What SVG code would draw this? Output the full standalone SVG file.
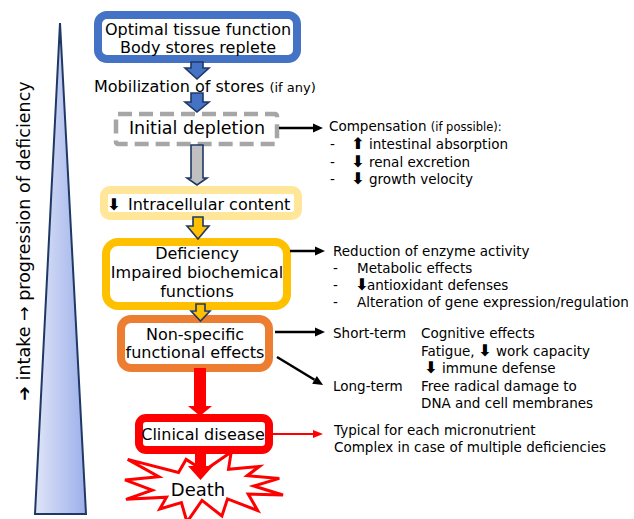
<svg xmlns="http://www.w3.org/2000/svg" width="634" height="519" viewBox="0 0 634 519">
<style>
text{font-family:"DejaVu Sans",sans-serif;fill:#000}
.m{font-size:16px;text-anchor:middle}
.r{font-size:13.5px}
.sm{font-size:11.5px}
.ar{font-size:16px;font-weight:bold}
.blk{fill:none;stroke:#000;stroke-width:2.5}
.red{fill:none;stroke:#ff0000;stroke-width:2}
.ba{stroke:#1f3864;stroke-width:1.6;stroke-linejoin:miter}
</style>
<defs>
<linearGradient id="tri" x1="35" y1="0" x2="86" y2="0" gradientUnits="userSpaceOnUse">
<stop offset="0" stop-color="#dfe4f7"/>
<stop offset="1" stop-color="#9cafea"/>
</linearGradient>
<marker id="ah" markerUnits="userSpaceOnUse" markerWidth="11" markerHeight="10" refX="0" refY="5" orient="auto" overflow="visible">
<path d="M0,0.5 L10,5 L0,9.5 z" fill="#000"/>
</marker>
<marker id="ahr" markerUnits="userSpaceOnUse" markerWidth="11" markerHeight="10" refX="0" refY="4.5" orient="auto" overflow="visible">
<path d="M0,0.5 L10,4.5 L0,8.5 z" fill="#ff0000"/>
</marker>
</defs>
<rect width="634" height="519" fill="#fff"/>

<g id="scale">
<polygon points="60,23 86,514 35,514" fill="url(#tri)" stroke="#1f3864" stroke-width="2" stroke-linejoin="miter"/>
<text transform="translate(30,241) rotate(-90)" style="font-size:17.5px;text-anchor:middle"><tspan style="font-weight:bold">➔</tspan> intake → progression of deficiency</text>
</g>

<g id="optimal">
<rect x="98" y="15" width="199" height="44" rx="9" fill="#fff" stroke="#4472c4" stroke-width="8"/>
<text class="m" x="198" y="35">Optimal tissue function</text>
<text class="m" x="198" y="53">Body stores replete</text>
</g>

<g id="mobilization">
<text x="94" y="92" style="font-size:16px">Mobilization of stores <tspan style="font-size:13px">(if any)</tspan></text>
</g>

<g id="initial">
<rect x="116" y="114" width="161" height="30" rx="2" fill="#fff" stroke="#a6a6a6" stroke-width="4.5" stroke-dasharray="14 7"/>
<text x="197" y="134" style="font-size:17.5px;text-anchor:middle">Initial depletion</text>
</g>

<g id="intracellular">
<rect x="104" y="190" width="194" height="26" rx="6" fill="#fff" stroke="#ffe699" stroke-width="8"/>
<text x="107" y="210" style="font-size:16px"><tspan class="ar">⬇</tspan><tspan x="128">Intracellular content</tspan></text>
</g>

<g id="deficiency">
<rect x="106" y="242" width="181" height="64" rx="12" fill="#fff" stroke="#ffc000" stroke-width="8"/>
<text class="m" x="197" y="259">Deficiency</text>
<text class="m" x="197" y="278">Impaired biochemical</text>
<text class="m" x="197" y="297">functions</text>
</g>

<g id="nonspecific">
<rect x="121" y="319" width="148" height="49" rx="10" fill="#fff" stroke="#ed7d31" stroke-width="8"/>
<text class="m" x="195" y="340">Non-specific</text>
<text class="m" x="195" y="358">functional effects</text>
</g>

<g id="clinical">
<rect x="139" y="418" width="130" height="32" rx="7" fill="#fff" stroke="#ff0000" stroke-width="8"/>
<text class="m" x="203" y="440">Clinical disease</text>
</g>

<g id="death">
<polygon points="204,470.8 231.2,452 228.5,469.3 259.4,466.4 247.2,475.7 279.3,478.4 253.8,486 283,495 248.2,494 257.7,510.6 227.5,498.9 221.9,516 202,500.4 187,522 181.4,502.6 159.8,509 166.5,497.2 126,499.3 152.2,490.2 125,479.9 158.8,476.7 127.7,459.4 178.5,472.5 186.1,459.4" fill="#fff" stroke="#ff0000" stroke-width="3" stroke-linejoin="miter"/>
</g>

<g id="connectors">
<polygon class="ba" points="191,62 203,62 203,68 209,68 197,79 185,68 191,68" fill="#4472c4"/>
<polygon class="ba" points="191,93 203,93 203,102 209,102 197,112 185,102 191,102" fill="#4472c4"/>
<polygon class="ba" points="191,145 203,145 203,178 207,178 197,185 187,178 191,178" fill="#c0c0c0"/>
<polygon class="ba" points="193,217 203,217 203,226 209,226 198,239 187,226 193,226" fill="#ffc000"/>
<polygon class="ba" points="196,304 205,304 205,311 210,311 200.5,321 191,311 196,311" fill="#ffc000"/>
<polygon points="194,368 206,368 206,406 212,406 200,416 188,406 194,406" fill="#ff0000"/>
<polygon points="195,452 206,452 206,466 213,466 200.5,480 188,466 195,466" fill="#ff0000"/>
<line class="blk" x1="279" y1="128" x2="313" y2="128" marker-end="url(#ah)"/>
<line class="blk" x1="290" y1="251" x2="315" y2="251" marker-end="url(#ah)"/>
<line class="blk" x1="275" y1="332" x2="315" y2="332" marker-end="url(#ah)"/>
<line class="blk" x1="277" y1="357" x2="314.5" y2="379.8" marker-end="url(#ah)"/>
<line class="red" x1="273" y1="434" x2="313" y2="434" marker-end="url(#ahr)"/>
</g>

<g id="death-label">
<text x="198" y="496" style="font-size:18px;text-anchor:middle">Death</text>
</g>

<g id="compensation-text">
<text class="r" x="329" y="131">Compensation <tspan class="sm">(if possible):</tspan></text>
<text class="r" x="330" y="149">-<tspan class="ar" x="351">⬆</tspan><tspan x="369">intestinal absorption</tspan></text>
<text class="r" x="330" y="166.5">-<tspan class="ar" x="351">⬇</tspan><tspan x="369">renal excretion</tspan></text>
<text class="r" x="330" y="184">-<tspan class="ar" x="351">⬇</tspan><tspan x="369">growth velocity</tspan></text>
</g>

<g id="reduction-text">
<text class="r" x="333" y="255.5">Reduction of enzyme activity</text>
<text class="r" x="333" y="272.5">-<tspan x="357">Metabolic effects</tspan></text>
<text class="r" x="333" y="289.5">-<tspan class="ar" x="355">⬇</tspan><tspan x="367">antioxidant defenses</tspan></text>
<text class="r" x="333" y="306.5">-<tspan x="357">Alteration of gene expression/regulation</tspan></text>
</g>

<g id="effects-text">
<text class="r" x="333" y="337.5">Short-term</text>
<text class="r" x="421" y="337.5">Cognitive effects</text>
<text class="r" x="421" y="355.5">Fatigue,<tspan class="ar" x="478">⬇</tspan><tspan x="496">work capacity</tspan></text>
<text class="r" x="424" y="372.5"><tspan class="ar">⬇</tspan><tspan x="442">immune defense</tspan></text>
<text class="r" x="333" y="391">Long-term</text>
<text class="r" x="421" y="391">Free radical damage to</text>
<text class="r" x="421" y="407.5">DNA and cell membranes</text>
</g>

<g id="clinical-text">
<text class="r" x="334" y="434.5">Typical for each micronutrient</text>
<text class="r" x="334" y="452">Complex in case of multiple deficiencies</text>
</g>
</svg>
